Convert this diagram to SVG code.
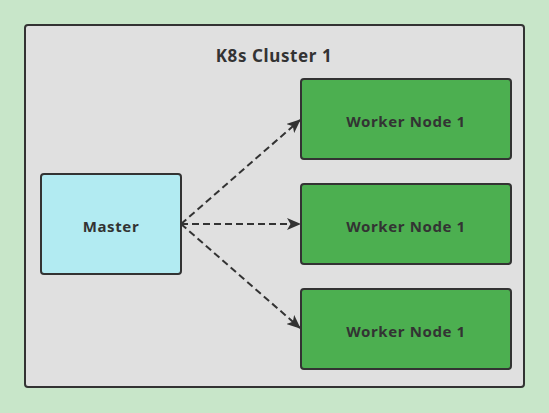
<svg xmlns="http://www.w3.org/2000/svg" width="549" height="413" viewBox="0 0 549 413">
<defs>
<style>
.box{stroke:#333;stroke-width:2}
.t{font-family:"Noto Sans","DejaVu Sans",sans-serif;font-weight:bold;fill:#333;text-anchor:middle;dominant-baseline:central;letter-spacing:0.6px}
.c{stroke:#333;stroke-width:2;stroke-dasharray:7 4;fill:none;marker-end:url(#ah)}
</style>
<marker id="ah" viewBox="0 0 14 12" refX="13" refY="6" markerWidth="14" markerHeight="12" markerUnits="userSpaceOnUse" orient="auto">
<path d="M0,0 L14,6 L0,12 L3.5,6 Z" fill="#333"/>
</marker>
</defs>
<rect width="549" height="413" fill="#C8E6C9"/>
<g id="cluster">
<rect class="box" x="25" y="25" width="499" height="362" rx="3" fill="#E0E0E0"/>
<text class="t" x="274" y="55" font-size="17">K8s Cluster 1</text>
</g>
<g id="connectors">
<path class="c" d="M181,224 L300,120"/>
<path class="c" d="M181,224 L300,224"/>
<path class="c" d="M181,224 L300,328"/>
</g>
<g id="master">
<rect class="box" x="41" y="174" width="140" height="100" rx="3" fill="#B2EBF2"/>
<text class="t" x="111" y="226" font-size="15">Master</text>
</g>
<g id="worker1">
<rect class="box" x="301" y="79" width="210" height="80" rx="3" fill="#4CAF50"/>
<text class="t" x="406" y="121" font-size="15">Worker Node 1</text>
</g>
<g id="worker2">
<rect class="box" x="301" y="184" width="210" height="80" rx="3" fill="#4CAF50"/>
<text class="t" x="406" y="226" font-size="15">Worker Node 1</text>
</g>
<g id="worker3">
<rect class="box" x="301" y="289" width="210" height="80" rx="3" fill="#4CAF50"/>
<text class="t" x="406" y="331" font-size="15">Worker Node 1</text>
</g>
</svg>
